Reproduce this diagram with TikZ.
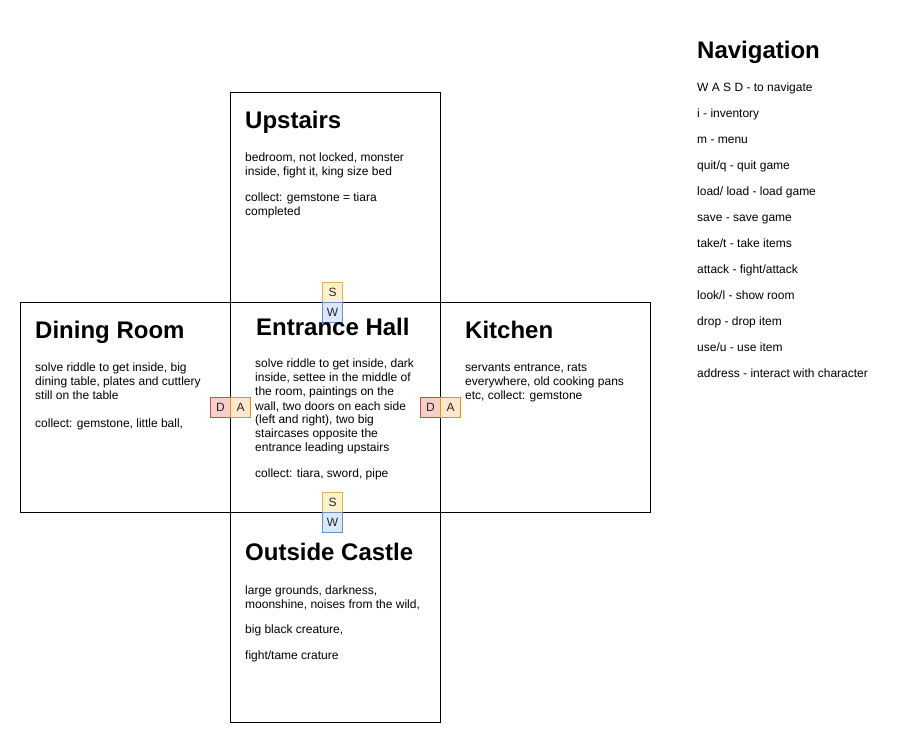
\documentclass[tikz,border=0pt]{standalone}
\usepackage{fontspec}
\setmainfont{Liberation Sans}
\definecolor{sfill}{HTML}{FFF2CC}\definecolor{sdraw}{HTML}{D6B656}
\definecolor{wfill}{HTML}{DAE8FC}\definecolor{wdraw}{HTML}{6C8EBF}
\definecolor{dfill}{HTML}{F8CECC}\definecolor{ddraw}{HTML}{B85450}
\definecolor{afill}{HTML}{FFE6CC}\definecolor{adraw}{HTML}{D79B00}
\newcommand\txtlines[5]{%
  \foreach \ln [count=\i from 0] in {#5} {\node[body] (#1-\i) at (#2,{#3+#4*\i}) {\ln};}}
\begin{document}
\begin{tikzpicture}[x=1pt,y=-1pt,
  room/.style={draw=black, line width=1pt, minimum width=210pt, minimum height=210pt, inner sep=0pt},
  key/.style={line width=1pt, minimum width=20pt, minimum height=20pt, inner sep=0pt, text=black!85, font=\fontsize{12}{14}\selectfont},
  keyS/.style={key, fill=sfill, draw=sdraw},
  keyW/.style={key, fill=wfill, draw=wdraw},
  keyD/.style={key, fill=dfill, draw=ddraw},
  keyA/.style={key, fill=afill, draw=adraw},
  title/.style={anchor=base west, inner sep=0pt, font=\fontsize{24}{28}\selectfont\bfseries},
  body/.style={anchor=base west, inner sep=0pt, font=\fontsize{12}{14}\selectfont}]
\useasboundingbox[fill=white] (0,0) rectangle (903,743);
% rooms
\node[room] (up) at (335.5,197.5) {};
\node[room] (din) at (125.5,407.5) {};
\node[room] (hall) at (335.5,407.5) {};
\node[room] (kit) at (545.5,407.5) {};
\node[room] (out) at (335.5,617.5) {};
% keys
\node[keyS] (s1) at (332.5,292.5) {S};
\node[keyW] (w1) at (332.5,312.5) {W};
\node[keyS] (s2) at (332.5,502.5) {S};
\node[keyW] (w2) at (332.5,522.5) {W};
\node[keyD] (d1) at (220.5,407.5) {D};
\node[keyA] (a1) at (240.5,407.5) {A};
\node[keyD] (d2) at (430.5,407.5) {D};
\node[keyA] (a2) at (450.5,407.5) {A};
% Upstairs
\node[title] (upT) at (245,129) {Upstairs};
\txtlines{upA}{245}{161.5}{14}{{bedroom, not locked, monster},{inside, fight it, king size bed}}
\txtlines{upB}{245}{201.5}{14}{{collect: gemstone = tiara},{completed}}
% Entrance Hall
\node[title] (hallT) at (256,335.5) {Entrance Hall};
\txtlines{hallA}{255}{368}{14}{{solve riddle to get inside, dark},{inside, settee in the middle of},{the room, paintings on the},{wall, two doors on each side},{(left and right), two big},{staircases opposite the},{entrance leading upstairs}}
\txtlines{hallB}{255}{478}{14}{{collect: tiara, sword, pipe}}
% Dining Room
\node[title] (dinT) at (35,339) {Dining Room};
\txtlines{dinA}{35}{371.5}{14}{{solve riddle to get inside, big},{dining table, plates and cuttlery},{still on the table}}
\txtlines{dinB}{35}{428}{14}{{collect: gemstone, little ball,}}
% Kitchen
\node[title] (kitT) at (465,339) {Kitchen};
\txtlines{kitA}{465}{371.5}{14}{{servants entrance, rats},{everywhere, old cooking pans},{etc, collect: gemstone}}
% Outside Castle
\node[title] (outT) at (245,560.5) {Outside Castle};
\txtlines{outA}{245}{594}{14}{{large grounds, darkness,},{moonshine, noises from the wild,}}
\txtlines{outB}{245}{633.5}{14}{{big black creature,}}
\txtlines{outC}{245}{659.5}{14}{{fight/tame crature}}
% Navigation
\node[title] (navT) at (697,59) {Navigation};
\txtlines{nav}{697}{91.5}{26}{{W A S D - to navigate},{i - inventory},{m - menu},{quit/q - quit game},{load/ load - load game},{save - save game},{take/t - take items},{attack - fight/attack},{look/l - show room},{drop - drop item},{use/u - use item},{address - interact with character}}
\end{tikzpicture}
\end{document}
